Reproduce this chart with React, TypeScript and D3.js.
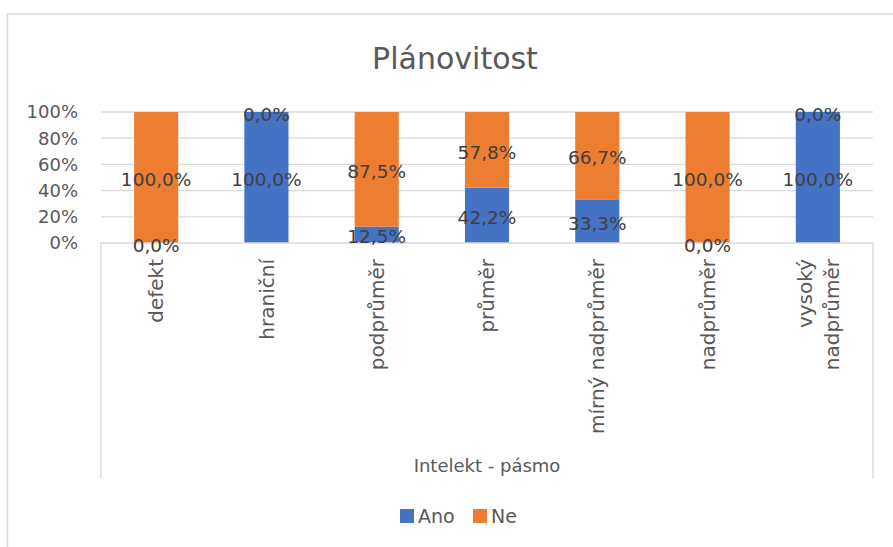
import { useEffect, useRef } from "react";
import * as d3 from "d3";

const categories = [
  "defekt",
  "hraniční",
  "podprůměr",
  "průměr",
  "mírný nadprůměr",
  "nadprůměr",
  "vysoký nadprůměr",
];
const anoValues = [0, 100, 12.5, 42.2, 33.3, 0, 100];
const neValues = [100, 0, 87.5, 57.8, 66.7, 100, 0];
const seriesNames = ["Ano", "Ne"];
const seriesColors = ["#4472C4", "#ED7D31"];
const yTicks = [0, 20, 40, 60, 80, 100];

const W = 893;
const H = 547;
const FONT = "'DejaVu Sans', sans-serif";

const App: React.FC = () => {
  const svgRef = useRef<SVGSVGElement>(null);

  useEffect(() => {
    if (!svgRef.current) return;
    const svg = d3.select(svgRef.current);
    svg.selectAll("*").remove();

    const left = 101;
    const right = 873;
    const top = 112;
    const bottom = 243;

    const rows = categories.map((c, i) => ({
      cat: c,
      Ano: anoValues[i],
      Ne: neValues[i],
    }));

    const x = d3
      .scaleBand<string>()
      .domain(categories)
      .range([left, right])
      .paddingInner(0.6)
      .paddingOuter(0.3);
    const y = d3.scaleLinear().domain([0, 100]).range([bottom, top]);

    // outer chart frame
    svg
      .append("path")
      .attr("d", `M7.5,${H} V14 H${W}`)
      .attr("fill", "none")
      .attr("stroke", "#d9d9d9")
      .attr("stroke-width", 1.5);

    // title
    svg
      .append("text")
      .attr("x", 455)
      .attr("y", 69)
      .attr("text-anchor", "middle")
      .style("font-family", FONT)
      .style("font-size", "30px")
      .attr("fill", "#595959")
      .text("Plánovitost");

    // gridlines
    svg
      .append("g")
      .selectAll("line")
      .data(yTicks.filter((t) => t > 0))
      .join("line")
      .attr("x1", left)
      .attr("x2", right)
      .attr("y1", (d) => y(d))
      .attr("y2", (d) => y(d))
      .attr("stroke", "#d9d9d9")
      .attr("stroke-width", 1.3);

    // y tick labels
    svg
      .append("g")
      .selectAll("text")
      .data(yTicks)
      .join("text")
      .attr("x", 78)
      .attr("y", (d) => y(d))
      .attr("dy", "0.36em")
      .attr("text-anchor", "end")
      .style("font-family", FONT)
      .style("font-size", "18px")
      .attr("fill", "#595959")
      .text((d) => `${d}%`);

    // stacked bars
    const stack = d3.stack<any>().keys(seriesNames);
    const layers = stack(rows);
    const bw = x.bandwidth();

    layers.forEach((layer, si) => {
      svg
        .append("g")
        .selectAll("rect")
        .data(layer)
        .join("rect")
        .attr("x", (d) => x(d.data.cat)!)
        .attr("width", bw)
        .attr("y", (d) => y(d[1]))
        .attr("height", (d) => y(d[0]) - y(d[1]))
        .attr("fill", seriesColors[si]);
    });

    // axis line + frame lines below
    svg
      .append("path")
      .attr("d", `M${left},479 V${bottom} H${right} V479`)
      .attr("fill", "none")
      .attr("stroke", "#d9d9d9")
      .attr("stroke-width", 1.3);

    // data labels
    layers.forEach((layer) => {
      svg
        .append("g")
        .selectAll("text")
        .data(layer)
        .join("text")
        .attr("x", (d) => x(d.data.cat)! + bw / 2)
        .attr("y", (d) => (y(d[0]) + y(d[1])) / 2 + 2)
        .attr("dy", "0.36em")
        .attr("text-anchor", "middle")
        .style("font-family", FONT)
        .style("font-size", "18.5px")
        .attr("fill", "#404040")
        .text((d) => `${(d[1] - d[0]).toFixed(1).replace(".", ",")}%`);
    });

    // category labels (rotated)
    const catG = svg.append("g");
    categories.forEach((c) => {
      const cx = x(c)! + bw / 2;
      const lines = c === "vysoký nadprůměr" ? ["vysoký", "nadprůměr"] : [c];
      lines.forEach((ln, i) => {
        const off = (i - (lines.length - 1) / 2) * 27;
        catG
          .append("text")
          .attr("transform", `translate(${cx + off},259) rotate(-90)`)
          .attr("dy", "0.36em")
          .attr("text-anchor", "end")
          .style("font-family", FONT)
          .style("font-size", "20px")
          .attr("fill", "#595959")
          .text(ln);
      });
    });

    // axis title
    svg
      .append("text")
      .attr("x", (left + right) / 2)
      .attr("y", 472)
      .attr("text-anchor", "middle")
      .style("font-family", FONT)
      .style("font-size", "18px")
      .attr("fill", "#595959")
      .text("Intelekt - pásmo");

    // legend
    const legendItems = [
      { name: seriesNames[0], color: seriesColors[0], x: 400 },
      { name: seriesNames[1], color: seriesColors[1], x: 473 },
    ];
    const lg = svg.append("g");
    legendItems.forEach((it) => {
      lg.append("rect")
        .attr("x", it.x)
        .attr("y", 509)
        .attr("width", 14)
        .attr("height", 14)
        .attr("fill", it.color);
      lg.append("text")
        .attr("x", it.x + 18)
        .attr("y", 523)
        .style("font-family", FONT)
        .style("font-size", "19px")
        .attr("fill", "#595959")
        .text(it.name);
    });
  }, []);

  return (
    <svg
      ref={svgRef}
      width={W}
      height={H}
      style={{ position: "absolute", left: 0, top: 0, background: "#fff" }}
    />
  );
};

export default App;
